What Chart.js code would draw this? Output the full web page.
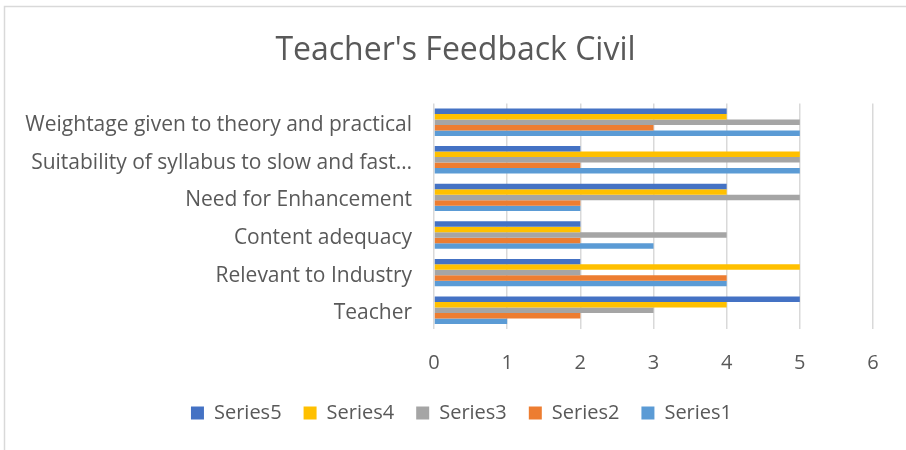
<!DOCTYPE html>
<html>
<head>
<meta charset="utf-8">
<script src="https://cdn.jsdelivr.net/npm/chart.js@4/dist/chart.umd.min.js"></script>
<style>
  html, body { margin: 0; padding: 0; background: #fff; }
  #wrap { width: 906px; height: 450px; position: relative; }
</style>
</head>
<body>
<div id="wrap"><canvas id="c" width="906" height="450"></canvas></div>
<script>
const categories = [
  "Weightage given to theory and practical",
  "Suitability of syllabus to slow and fast learners",
  "Need for Enhancement",
  "Content adequacy",
  "Relevant to Industry",
  "Teacher"
];
const series5 = [4, 2, 4, 2, 2, 5];
const series4 = [4, 5, 4, 2, 5, 4];
const series3 = [5, 5, 5, 4, 2, 3];
const series2 = [3, 2, 2, 2, 4, 2];
const series1 = [5, 5, 2, 3, 4, 1];
const xTicks = [0, 1, 2, 3, 4, 5, 6];
const seriesNames = ["Series5", "Series4", "Series3", "Series2", "Series1"];
const seriesColors = ["#4472C4", "#FFC000", "#A5A5A5", "#ED7D31", "#5B9BD5"];
const seriesData = [series5, series4, series3, series2, series1];

const textColor = "#595959";
const fontFamily = "'Open Sans', 'Noto Sans', sans-serif";

const borderPlugin = {
  id: 'outerBorder',
  afterLayout(chart) {
    // Centre legend and title the way the reference does (offset from chart box centre)
    if (chart.legend) { chart.legend.left += 25; chart.legend.right += 25; }
    if (chart.titleBlock) { chart.titleBlock.left += 19; chart.titleBlock.right += 19; }
  },
  afterDraw(chart) {
    const ctx = chart.ctx;
    ctx.save();
    ctx.strokeStyle = "#d9d9d9";
    ctx.lineWidth = 1.5;
    ctx.beginPath();
    ctx.moveTo(906, 6.5);
    ctx.lineTo(4.5, 6.5);
    ctx.lineTo(4.5, 450);
    ctx.stroke();
    ctx.restore();
  }
};

function truncate(ctx, text, maxW) {
  if (ctx.measureText(text).width <= maxW) return text;
  let t = text;
  while (t.length > 1 && ctx.measureText(t + "…").width > maxW) t = t.slice(0, -1);
  const sp = t.lastIndexOf(" ");
  if (sp > 0 && t[t.length - 1] !== " ") t = t.slice(0, sp);
  return t.trimEnd() + "…";
}

const measureCtx = document.createElement('canvas').getContext('2d');
measureCtx.font = "21px " + fontFamily;

new Chart(document.getElementById('c'), {
  type: 'bar',
  data: {
    labels: categories,
    datasets: seriesNames.map((n, i) => ({
      label: n,
      data: seriesData[i],
      backgroundColor: seriesColors[i],
      borderWidth: 0,
      categoryPercentage: 0.73,
      barPercentage: 1.0
    }))
  },
  plugins: [borderPlugin],
  options: {
    indexAxis: 'y',
    responsive: false,
    animation: false,
    devicePixelRatio: 1,
    layout: { padding: { left: 0, right: 33, top: 18, bottom: 17 } },
    plugins: {
      title: {
        display: true,
        text: "Teacher's Feedback Civil",
        color: textColor,
        font: { family: fontFamily, size: 32, weight: 'normal' },
        padding: { top: 14, bottom: 33 }
      },
      legend: {
        position: 'bottom',
        labels: {
          color: textColor,
          font: { family: fontFamily, size: 20 },
          boxWidth: 13,
          boxHeight: 13,
          padding: 22
        }
      },
      tooltip: { enabled: false }
    },
    scales: {
      x: {
        min: 0,
        max: 6,
        afterBuildTicks(scale) { scale.ticks = xTicks.map(v => ({ value: v })); },
        afterFit(scale) { scale.height = 52; },
        ticks: { color: textColor, font: { family: fontFamily, size: 20 }, padding: 22 },
        grid: { color: "#d9d9d9", lineWidth: 1.5, drawTicks: false },
        border: { display: false }
      },
      y: {
        afterFit(scale) { scale.width = 434; },
        ticks: {
          color: textColor,
          font: { family: fontFamily, size: 21 },
          padding: 22,
          labelOffset: 3,
          callback(v) {
            return truncate(measureCtx, this.getLabelForValue(v), 398);
          }
        },
        grid: { display: false, drawTicks: false },
        border: { display: false }
      }
    }
  }
});
</script>
</body>
</html>
